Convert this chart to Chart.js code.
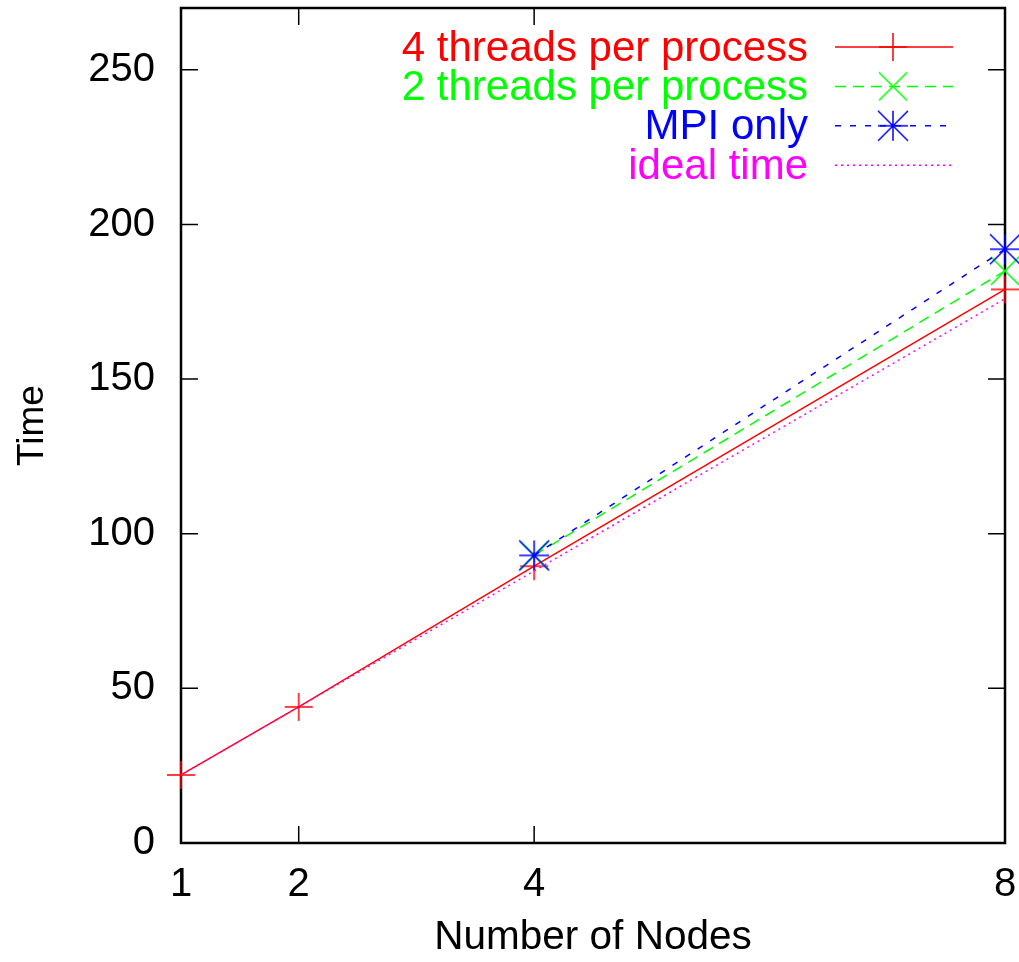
<!DOCTYPE html>
<html>
<head>
<meta charset="utf-8">
<script src="https://cdn.jsdelivr.net/npm/chart.js"></script>
<style>
  html, body { margin: 0; padding: 0; background: #fff; }
</style>
</head>
<body>
<canvas id="chartLine" width="1019" height="962"></canvas>
<script>
// data
const nodes = [1, 2, 4, 8];
const fourThreads = [22, 44, 89.5, 179];
const twoThreadNodes = [4, 8];
const twoThreads = [93, 185];
const mpiNodes = [4, 8];
const mpiOnly = [93, 192];
const idealTime = [22, 44, 88, 176];
const xTicks = [1, 2, 4, 8];
const yTicks = [0, 50, 100, 150, 200, 250];
const seriesNames = ["4 threads per process", "2 threads per process", "MPI only", "ideal time"];

const FONT = "'Liberation Sans', Arial, Helvetica, sans-serif";

// gnuplot style markers
function makeMarker(kind, color, half) {
  const c = document.createElement("canvas");
  c.width = c.height = half * 2 + 4;
  const g = c.getContext("2d");
  const m = half + 2;
  g.strokeStyle = color;
  g.lineWidth = 1.5;
  g.beginPath();
  if (kind == "plus" || kind == "star") {
    g.moveTo(m - half, m); g.lineTo(m + half, m);
    g.moveTo(m, m - half); g.lineTo(m, m + half);
  }
  if (kind == "cross" || kind == "star") {
    g.moveTo(m - half, m - half); g.lineTo(m + half, m + half);
    g.moveTo(m - half, m + half); g.lineTo(m + half, m - half);
  }
  g.stroke();
  return c;
}

function pts(xs, ys) {
  return xs.map((x, i) => ({ x: x, y: ys[i] }));
}

// order: gnuplot draws later series on top
const datasets = [
  {
    label: seriesNames[0],
    data: pts(nodes, fourThreads),
    borderColor: "#ff0000",
    borderDash: [],
    pointStyle: makeMarker("plus", "#ff0000", 14),
    order: 3,
  },
  {
    label: seriesNames[1],
    data: pts(twoThreadNodes, twoThreads),
    borderColor: "#00ff00",
    borderDash: [11, 7],
    pointStyle: makeMarker("cross", "#00ff00", 14),
    order: 2,
  },
  {
    label: seriesNames[2],
    data: pts(mpiNodes, mpiOnly),
    borderColor: "#0000ff",
    borderDash: [6, 9],
    pointStyle: makeMarker("star", "#0000ff", 15),
    order: 1,
  },
  {
    label: seriesNames[3],
    data: pts(nodes, idealTime),
    borderColor: "#ff00ff",
    borderDash: [2, 4],
    pointStyle: false,
    pointRadius: 0,
    order: 0,
  },
].map(d => Object.assign({ borderWidth: 1.5, fill: false, tension: 0, clip: false, pointRadius: 14 }, d));

// box around the plot with inward ticks on all four sides
const frame = {
  id: "frame",
  beforeDatasetsDraw(chart) {
    const ctx = chart.ctx;
    const a = chart.chartArea;
    const xs = chart.scales.x, ys = chart.scales.y;
    ctx.save();
    ctx.strokeStyle = "#000";
    ctx.lineWidth = 1.5;
    ctx.beginPath();
    yTicks.forEach(v => {
      const y = ys.getPixelForValue(v);
      ctx.moveTo(a.left, y); ctx.lineTo(a.left + 17, y);
      ctx.moveTo(a.right, y); ctx.lineTo(a.right - 17, y);
    });
    xTicks.forEach(v => {
      const x = xs.getPixelForValue(v);
      ctx.moveTo(x, a.bottom); ctx.lineTo(x, a.bottom - 17);
      ctx.moveTo(x, a.top); ctx.lineTo(x, a.top + 17);
    });
    ctx.stroke();
    ctx.lineWidth = 2.5;
    ctx.strokeRect(a.left, a.top, a.right - a.left, a.bottom - a.top);
    ctx.restore();
  }
};

// gnuplot key: right aligned text, sample line on the right
const key = {
  id: "key",
  afterDraw(chart) {
    const ctx = chart.ctx;
    ctx.save();
    ctx.font = "42px " + FONT;
    ctx.textAlign = "right";
    ctx.textBaseline = "middle";
    chart.data.datasets.forEach((ds, i) => {
      const y = 47 + i * 39.4;
      ctx.fillStyle = ds.borderColor;
      ctx.fillText(ds.label, 808, y + 2);
      ctx.strokeStyle = ds.borderColor;
      ctx.lineWidth = ds.borderWidth;
      ctx.setLineDash(ds.borderDash);
      ctx.beginPath();
      ctx.moveTo(835, y);
      ctx.lineTo(953, y);
      ctx.stroke();
      ctx.setLineDash([]);
      if (ds.pointStyle) {
        const m = ds.pointStyle;
        ctx.drawImage(m, 893 - m.width / 2, y - m.height / 2);
      }
    });
    ctx.restore();
  }
};

new Chart(document.getElementById("chartLine"), {
  type: "line",
  data: { datasets: datasets },
  options: {
    responsive: false,
    animation: false,
    devicePixelRatio: 1,
    layout: { autoPadding: false, padding: { top: 8, right: 14, left: 0, bottom: 0 } },
    plugins: { legend: { display: false }, tooltip: { enabled: false } },
    scales: {
      x: {
        type: "linear",
        min: 1,
        max: 8,
        afterBuildTicks: s => { s.ticks = xTicks.map(v => ({ value: v })); },
        afterFit: s => { s.height = 119; s.paddingLeft = 0; s.paddingRight = 0; },
        grid: { display: false, drawTicks: false },
        border: { display: false },
        ticks: { color: "#000", font: { family: FONT, size: 40 }, padding: 18, maxRotation: 0, autoSkip: false },
        title: { display: true, text: "Number of Nodes", color: "#000", font: { family: FONT, size: 40.5 }, padding: { top: 0, bottom: 0 } }
      },
      y: {
        min: 0,
        max: 270,
        afterBuildTicks: s => { s.ticks = yTicks.map(v => ({ value: v })); },
        afterFit: s => { s.width = 181; s.paddingTop = 0; s.paddingBottom = 0; },
        grid: { display: false, drawTicks: false },
        border: { display: false },
        ticks: { color: "#000", font: { family: FONT, size: 40 }, padding: 26 },
        title: { display: true, text: "Time", color: "#000", font: { family: FONT, size: 37 }, padding: { top: 11, bottom: 0 } }
      }
    }
  },
  plugins: [frame, key]
});
</script>
</body>
</html>
